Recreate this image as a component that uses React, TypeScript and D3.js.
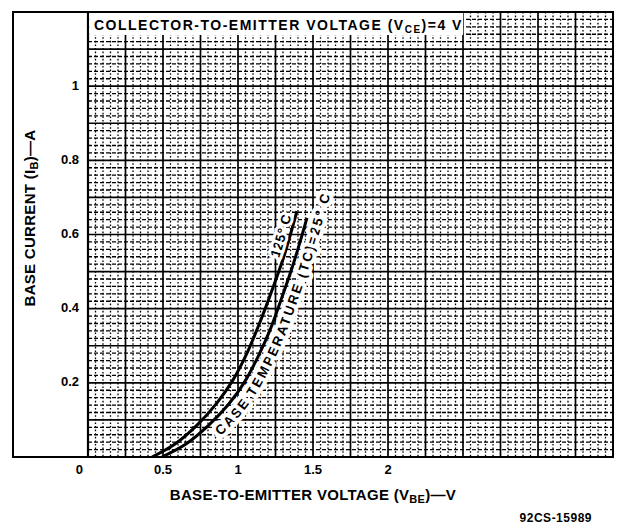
import * as d3 from "d3";
import { useMemo } from "react";

const W = 622;
const H = 525;
const M = { top: 12, right: 9, bottom: 68, left: 88 };
const FONT = "'Liberation Sans', Arial, sans-serif";

// axis extents (V, A)
const X_MAX = 3.5;
const Y_MAX = 1.2;
const X_TICKS = [0, 0.5, 1, 1.5, 2];
const X_TICK_LABELS = ["0", "0.5", "1", "1.5", "2"];
const Y_TICKS = [0.2, 0.4, 0.6, 0.8, 1];
const Y_TICK_LABELS = ["0.2", "0.4", "0.6", "0.8", "1"];

// Tc = 25 °C
const VBE_25C = [0.493, 0.653, 0.8, 0.933, 1.04, 1.133, 1.213, 1.293, 1.373, 1.46];
const IB_25C = [0, 0.035, 0.084, 0.14, 0.2, 0.27, 0.342, 0.431, 0.526, 0.645];
// Tc = 125 °C
const VBE_125C = [0.427, 0.58, 0.727, 0.86, 0.967, 1.06, 1.147, 1.227, 1.307, 1.393];
const IB_125C = [0, 0.035, 0.086, 0.146, 0.208, 0.28, 0.364, 0.45, 0.542, 0.663];

type Pt = [number, number];

// shift a polyline sideways (pixel space); positive = right of travel direction
function offsetPts(pts: Pt[], d: number, extend: number): Pt[] {
  const out: Pt[] = pts.map((p, i) => {
    const a = pts[Math.max(0, i - 1)];
    const b = pts[Math.min(pts.length - 1, i + 1)];
    const dx = b[0] - a[0];
    const dy = b[1] - a[1];
    const L = Math.hypot(dx, dy) || 1;
    return [p[0] - (dy / L) * d, p[1] + (dx / L) * d];
  });
  if (extend > 0) {
    const a = out[out.length - 2];
    const b = out[out.length - 1];
    const L = Math.hypot(b[0] - a[0], b[1] - a[1]) || 1;
    out.push([b[0] + ((b[0] - a[0]) / L) * extend, b[1] + ((b[1] - a[1]) / L) * extend]);
  }
  return out;
}

export default function App() {
  const x = useMemo(() => d3.scaleLinear().domain([0, X_MAX]).range([M.left, W - M.right]), []);
  const y = useMemo(() => d3.scaleLinear().domain([0, Y_MAX]).range([H - M.bottom, M.top]), []);

  const line = d3.line<Pt>().curve(d3.curveCatmullRom.alpha(0.5));

  const px25: Pt[] = VBE_25C.map((v, i) => [x(v), y(IB_25C[i])]);
  const px125: Pt[] = VBE_125C.map((v, i) => [x(v), y(IB_125C[i])]);

  const label25Path = line(offsetPts(px25, 16, 30)) ?? "";
  const label125Path = line(offsetPts(px125, -4, 0)) ?? "";

  const xMajor = d3.range(0, X_MAX + 1e-9, 0.25);
  const xMinor = d3.range(0, X_MAX + 1e-9, 0.05).filter((v) => Math.abs(v / 0.25 - Math.round(v / 0.25)) > 1e-6);
  const yMajor = d3.range(0, Y_MAX + 1e-9, 0.1);
  const yMinor = d3.range(0, Y_MAX + 1e-9, 0.02).filter((v) => Math.abs(v / 0.1 - Math.round(v / 0.1)) > 1e-6);

  const x0 = M.left;
  const x1 = W - M.right;
  const y0 = H - M.bottom;
  const y1 = M.top;

  return (
    <svg
      width={W}
      height={H}
      style={{ position: "absolute", left: 0, top: 0, background: "#fff" }}
      fontFamily={FONT}
      fontWeight={700}
    >
      <rect x={0} y={0} width={W} height={H} fill="#fff" />

      {/* minor grid */}
      {yMinor.map((v) => (
        <line key={`hm${v}`} x1={x0} x2={x1} y1={y(v)} y2={y(v)} stroke="#000" strokeWidth={1.3} strokeDasharray="4 2" />
      ))}
      {xMinor.map((v) => (
        <line key={`vm${v}`} x1={x(v)} x2={x(v)} y1={y1} y2={y0} stroke="#000" strokeWidth={1.3} strokeDasharray="1.6 2" />
      ))}
      {/* major grid */}
      {yMajor.map((v) => (
        <line key={`hM${v}`} x1={x0} x2={x1} y1={y(v)} y2={y(v)} stroke="#000" strokeWidth={1.7} />
      ))}
      {xMajor.map((v) => (
        <line key={`vM${v}`} x1={x(v)} x2={x(v)} y1={y1} y2={y0} stroke="#000" strokeWidth={1.7} />
      ))}

      {/* outer frame + plot border */}
      <path d={`M${x1},${y1} H13 V${y0} H${x1} Z`} fill="none" stroke="#000" strokeWidth={2} />
      <line x1={x0} x2={x0} y1={y1} y2={y0} stroke="#000" strokeWidth={2.2} />

      {/* title box */}
      <rect x={x0 + 1.2} y={y1 + 1} width={x(2.5) - x0 - 1} height={22} fill="#fff" />
      <text x={x0 + 6} y={y1 + 18} fontSize={14} letterSpacing={1.5}>
        COLLECTOR-TO-EMITTER VOLTAGE (V
        <tspan fontSize={10} dy={3}>CE</tspan>
        <tspan dy={-3}>)=4 V</tspan>
      </text>

      {/* curves */}
      <path d={line(px125) ?? ""} fill="none" stroke="#000" strokeWidth={3} />
      <path d={line(px25) ?? ""} fill="none" stroke="#000" strokeWidth={3} />

      <defs>
        <path id="lbl25" d={label25Path} />
        <path id="lbl125" d={label125Path} />
      </defs>
      <text fontSize={13.5} letterSpacing={2} stroke="#fff" strokeWidth={8} strokeLinejoin="round" paintOrder="stroke">
        <textPath href="#lbl25" startOffset="100%" textAnchor="end">
          CASE TEMPERATURE (TC)=25° C
        </textPath>
      </text>
      <text fontSize={13.5} letterSpacing={0.5} stroke="#fff" strokeWidth={6} strokeLinejoin="round" paintOrder="stroke">
        <textPath href="#lbl125" startOffset="98%" textAnchor="end">
          125° C
        </textPath>
      </text>

      {/* tick labels */}
      {X_TICKS.map((v, i) => (
        <text
          key={`xt${v}`}
          x={v === 0 ? x(v) - 5 : x(v)}
          y={y0 + 17}
          fontSize={13}
          textAnchor={v === 0 ? "end" : "middle"}
        >
          {X_TICK_LABELS[i]}
        </text>
      ))}
      {Y_TICKS.map((v, i) => (
        <text key={`yt${v}`} x={x0 - 9} y={y(v)} fontSize={13} textAnchor="end" dominantBaseline="middle">
          {Y_TICK_LABELS[i]}
        </text>
      ))}

      {/* axis titles */}
      <text x={313} y={500} fontSize={15} textAnchor="middle" letterSpacing={0.3}>
        BASE-TO-EMITTER VOLTAGE (V
        <tspan fontSize={11} dy={3}>BE</tspan>
        <tspan dy={-3}>)—V</tspan>
      </text>
      <text transform="translate(35,218) rotate(-90)" fontSize={15} textAnchor="middle" letterSpacing={0.3}>
        BASE CURRENT (I
        <tspan fontSize={11} dy={3}>B</tspan>
        <tspan dy={-3}>)—A</tspan>
      </text>
      <text x={592} y={522} fontSize={12} textAnchor="end" letterSpacing={0.5}>
        92CS-15989
      </text>
    </svg>
  );
}
